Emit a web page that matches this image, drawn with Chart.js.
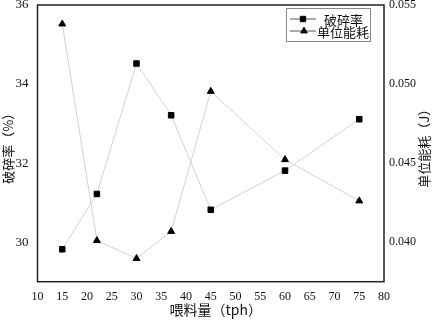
<!DOCTYPE html>
<html>
<head>
<meta charset="utf-8">
<script src="https://cdn.jsdelivr.net/npm/chart.js@4"></script>
<style>
html,body{margin:0;padding:0;background:#fff;}
#wrap{width:435px;height:320px;position:relative;}
</style>
</head>
<body>
<div id="wrap"><canvas id="c" width="435" height="320"></canvas></div>
<script>
const feedRates = [15, 22, 30, 37, 45, 60, 75];
const crushRate = [29.82, 31.22, 34.52, 33.21, 30.82, 31.81, 33.11];
const energyUse = [0.0538, 0.0401, 0.03897, 0.04068, 0.04954, 0.04522, 0.04261];
const leftTicks = [30, 32, 34, 36];
const rightTicks = [0.040, 0.045, 0.050, 0.055];
const xTitle = '喂料量（tph）';
const leftTitle = '破碎率（%）';
const rightTitle = '单位能耗（J）';
const seriesNames = ['破碎率', '单位能耗'];

const FONT = "'Liberation Serif', 'Noto Sans CJK SC', serif";
const CJK = "'Noto Sans CJK SC', 'Liberation Serif', serif";

function fixW(w){ return function(s){ s.width = w; s.paddingTop = 0; s.paddingBottom = 0; }; }

const frame = {
  id: 'frame',
  afterDraw(chart){
    const {ctx, chartArea:a} = chart;
    ctx.save();
    ctx.strokeStyle = '#222';
    ctx.lineWidth = 1.5;
    ctx.strokeRect(a.left, a.top, a.right - a.left, a.bottom - a.top);
    // axis titles
    ctx.fillStyle = '#111';
    ctx.font = "13px " + CJK;
    ctx.textAlign = 'center';
    ctx.textBaseline = 'middle';
    const cy = (a.top + a.bottom) / 2 + 2;
    ctx.save(); ctx.translate(8, cy); ctx.rotate(-Math.PI/2); ctx.fillText(leftTitle, 0, 0); ctx.restore();
    ctx.save(); ctx.translate(424, cy); ctx.rotate(-Math.PI/2); ctx.fillText(rightTitle, 0, 0); ctx.restore();
    ctx.font = "14px " + CJK;
    ctx.fillText(xTitle, (a.left + a.right) / 2 + 5, 310);
    // legend
    ctx.strokeStyle = '#888';
    ctx.lineWidth = 1;
    ctx.strokeRect(286.5, 8.5, 84, 33);
    const rows = [{y:19, style:'rect', tx:324}, {y:31, style:'triangle', tx:317}];
    rows.forEach((r, i) => {
      ctx.strokeStyle = '#555';
      ctx.lineWidth = 1;
      ctx.beginPath(); ctx.moveTo(290, r.y); ctx.lineTo(316, r.y); ctx.stroke();
      ctx.fillStyle = '#000'; ctx.strokeStyle = '#000';
      Chart.helpers.drawPoint(ctx, {pointStyle: r.style, radius: 3.8, borderWidth: 1}, i === 0 ? 303 : 304, r.y);
      ctx.fillStyle = '#111';
      ctx.font = "13px " + CJK;
      ctx.textAlign = 'left';
      ctx.fillText(seriesNames[i], r.tx, r.y + 1);
    });
    ctx.restore();
  }
};

new Chart(document.getElementById('c'), {
  type: 'line',
  data: {
    datasets: [
      {
        label: seriesNames[0],
        data: feedRates.map((x, i) => ({x, y: crushRate[i]})),
        yAxisID: 'y',
        borderColor: '#d2d2d2', borderWidth: 1,
        pointStyle: 'rect', pointRadius: 3.9,
        pointBackgroundColor: '#000', pointBorderColor: '#000', pointBorderWidth: 1
      },
      {
        label: seriesNames[1],
        data: feedRates.map((x, i) => ({x, y: energyUse[i]})),
        yAxisID: 'y1',
        borderColor: '#d2d2d2', borderWidth: 1,
        pointStyle: 'triangle', pointRadius: 4,
        pointBackgroundColor: '#000', pointBorderColor: '#000', pointBorderWidth: 1
      }
    ]
  },
  options: {
    responsive: false,
    animation: false,
    layout: {padding: {top: 4, left: 0, right: 0, bottom: 0}},
    plugins: {legend: {display: false}, tooltip: {enabled: false}},
    scales: {
      x: {
        type: 'linear', min: 10, max: 80,
        grid: {display: false, drawTicks: false},
        border: {display: false},
        ticks: {stepSize: 5, padding: 8, color: '#111', font: {family: FONT, size: 12}, maxRotation: 0, autoSkip: false},
        afterFit(s){ s.height = 38.3; s.paddingLeft = 0; s.paddingRight = 0; }
      },
      y: {
        position: 'left', min: 29, max: 36,
        grid: {display: false, drawTicks: false},
        border: {display: false},
        afterBuildTicks(s){ s.ticks = leftTicks.map(v => ({value: v})); },
        ticks: {padding: 9, color: '#111', font: {family: FONT, size: 13}},
        afterFit: fixW(37.5)
      },
      y1: {
        position: 'right', min: 0.0375, max: 0.055,
        grid: {display: false, drawTicks: false},
        border: {display: false},
        afterBuildTicks(s){ s.ticks = rightTicks.map(v => ({value: v})); },
        ticks: {padding: 5, color: '#111', font: {family: FONT, size: 12}, callback: v => v.toFixed(3)},
        afterFit: fixW(51)
      }
    }
  },
  plugins: [frame]
});
</script>
</body>
</html>
